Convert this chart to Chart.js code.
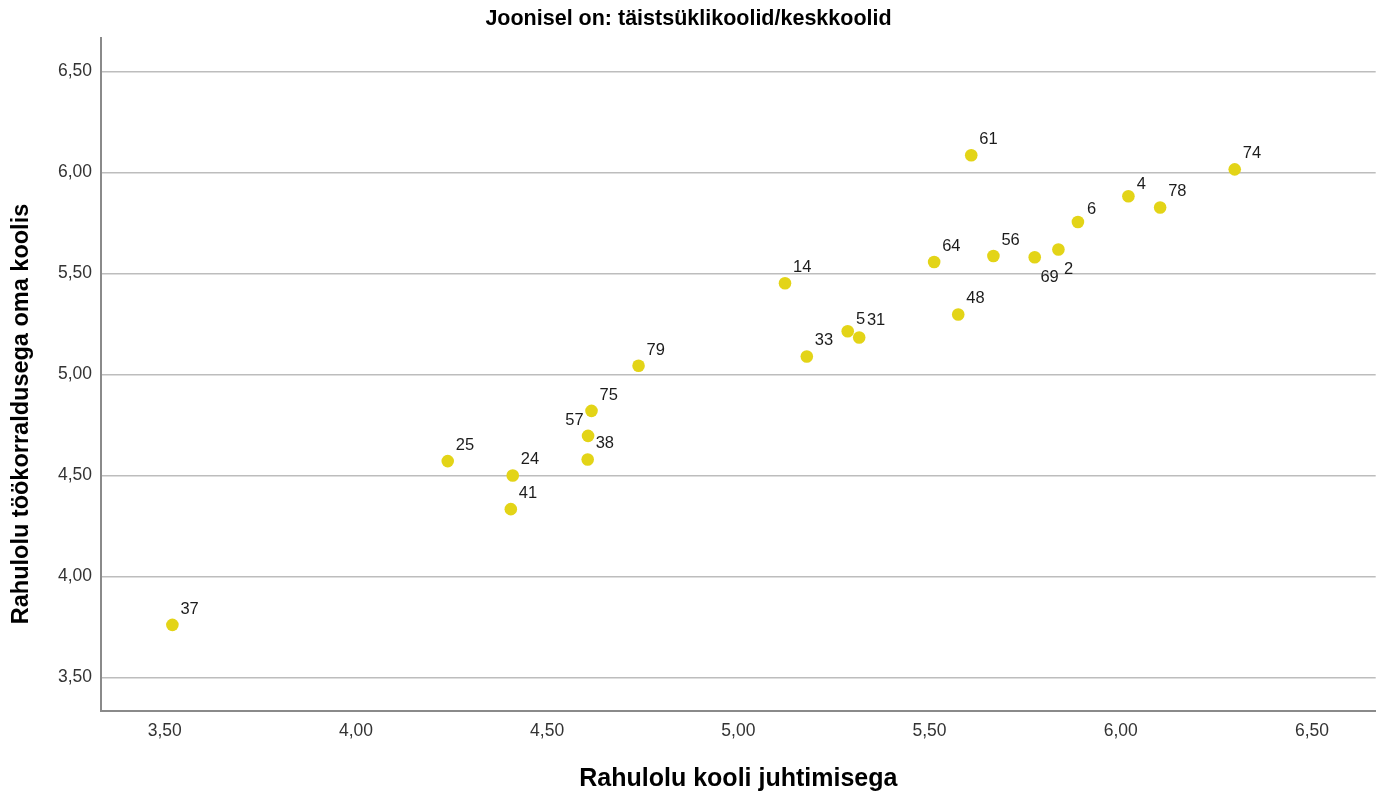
<!DOCTYPE html>
<html>
<head>
<meta charset="utf-8">
<title>Joonisel on: täistsüklikoolid/keskkoolid</title>
<script src="https://cdn.jsdelivr.net/npm/chart.js@4.4.1/dist/chart.umd.min.js"></script>
<style>
    html, body { margin: 0; padding: 0; background: #ffffff; }
    canvas { display: block; }
</style>
</head>
<body>
<canvas id="scatter" width="1382" height="796"></canvas>
<script>
// school numbers shown next to each point
const schoolIds = ['37', '25', '24', '41', '57', '38', '75', '79', '14', '33', '5', '31',
                   '64', '48', '61', '56', '69', '2', '6', '4', '78', '74'];
// Rahulolu kooli juhtimisega (x)
const juhtimine = [3.52, 4.24, 4.41, 4.405, 4.607, 4.606, 4.616, 4.739, 5.122, 5.179, 5.286, 5.316,
                   5.512, 5.575, 5.609, 5.667, 5.775, 5.837, 5.888, 6.02, 6.103, 6.298];
// Rahulolu töökorraldusega oma koolis (y)
const tookorraldus = [3.76, 4.571, 4.5, 4.333, 4.696, 4.579, 4.82, 5.043, 5.452, 5.089, 5.214, 5.183,
                      5.557, 5.297, 6.086, 5.587, 5.581, 5.619, 5.755, 5.883, 5.827, 6.016];

const xTicks = [3.5, 4.0, 4.5, 5.0, 5.5, 6.0, 6.5];
const yTicks = [3.5, 4.0, 4.5, 5.0, 5.5, 6.0, 6.5];

const FONT = '"Liberation Sans", Arial, Helvetica, sans-serif';
const POINT_COLOR = '#e3d417';

// where each number sits relative to its point: [dx, dy(baseline), align]
const labelOffsets = {
    '57': [-4.5, -10.7, 'right'],
    '69': [5.7, 25],
    '2': [5.7, 24.7],
    '5': [8.4, -7],
    '4': [8.4, -7.7],
    '6': [9, -8.4],
    '31': [7.7, -12.6]
};

const points = juhtimine.map((x, i) => ({ x: x, y: tookorraldus[i] }));

const commaFmt = v => Number(v).toFixed(2).replace('.', ',');

// draws the school numbers next to the dots
const idLabels = {
    id: 'idLabels',
    afterDatasetsDraw(chart) {
        const ctx = chart.ctx;
        const meta = chart.getDatasetMeta(0);
        ctx.save();
        ctx.font = '16.5px ' + FONT;
        ctx.fillStyle = '#1c1c1c';
        ctx.textBaseline = 'alphabetic';
        meta.data.forEach((pt, i) => {
            const id = schoolIds[i];
            const off = labelOffsets[id] || [8, -11.3];
            ctx.textAlign = off[2] || 'left';
            ctx.fillText(id, pt.x + off[0], pt.y + off[1]);
        });
        ctx.restore();
    }
};

// y axis title sits lower than the axis middle in the original
const yTitle = {
    id: 'yTitle',
    afterDraw(chart) {
        const ctx = chart.ctx;
        ctx.save();
        ctx.translate(22, 414);
        ctx.rotate(-Math.PI / 2);
        ctx.font = 'bold 23.5px ' + FONT;
        ctx.fillStyle = '#000000';
        ctx.textAlign = 'center';
        ctx.textBaseline = 'middle';
        ctx.fillText('Rahulolu töökorraldusega oma koolis', 0, 0);
        ctx.restore();
    }
};

const ctx = document.getElementById('scatter').getContext('2d');
const chart = new Chart(ctx, {
    type: 'scatter',
    data: {
        datasets: [{
            label: 'Koolid',
            data: points,
            backgroundColor: POINT_COLOR,
            borderWidth: 0,
            pointRadius: 6.3,
            pointHoverRadius: 6.3
        }]
    },
    options: {
        responsive: false,
        animation: false,
        layout: { padding: { top: 0, left: 0, right: 5, bottom: 0 } },
        plugins: {
            legend: { display: false },
            tooltip: { enabled: false },
            title: {
                display: true,
                text: 'Joonisel on: täistsüklikoolid/keskkoolid',
                color: '#000000',
                font: { family: FONT, size: 21.5, weight: 'bold' },
                padding: { top: 6.6, bottom: 5.6 }
            }
        },
        scales: {
            x: {
                type: 'linear',
                min: 3.3333,
                max: 6.6667,
                afterBuildTicks: s => { s.ticks = xTicks.map(v => ({ value: v })); },
                afterFit: s => { s.height = 85; },
                grid: { display: false, drawTicks: false },
                border: { display: true, color: '#8a8a8a', width: 2 },
                ticks: {
                    padding: 10,
                    color: '#333333',
                    font: { family: FONT, size: 17.5 },
                    callback: commaFmt
                },
                title: {
                    display: true,
                    text: 'Rahulolu kooli juhtimisega',
                    color: '#000000',
                    font: { family: FONT, size: 25, weight: 'bold' },
                    padding: { top: 0, bottom: 2 }
                }
            },
            y: {
                type: 'linear',
                min: 3.3333,
                max: 6.6667,
                afterBuildTicks: s => { s.ticks = yTicks.map(v => ({ value: v })); },
                afterFit: s => { s.width = 101; },
                grid: { color: '#bdbdbd', lineWidth: 1.5, drawTicks: false },
                border: { display: true, color: '#8a8a8a', width: 2 },
                ticks: {
                    padding: 9,
                    color: '#333333',
                    font: { family: FONT, size: 17.5 },
                    callback: commaFmt
                }
            }
        }
    },
    plugins: [idLabels, yTitle]
});
</script>
</body>
</html>
